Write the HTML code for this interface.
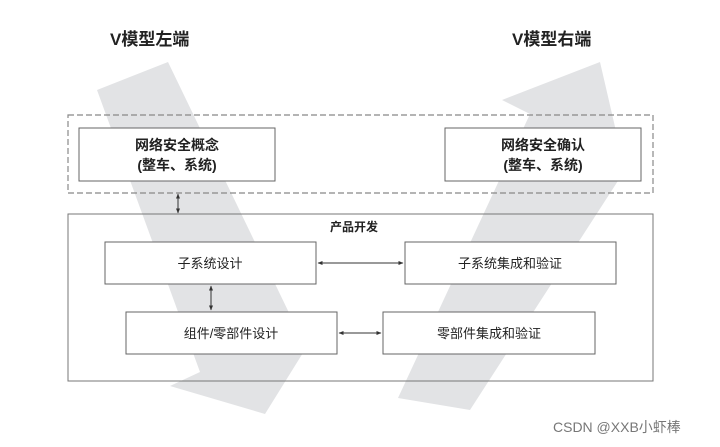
<!DOCTYPE html>
<html><head><meta charset="utf-8"><style>
body{margin:0;background:#fff}
svg{display:block}
text{font-family:"Liberation Sans","Noto Sans CJK SC",sans-serif;fill:#222}
</style></head><body>
<svg width="720" height="447" viewBox="0 0 720 447" xmlns="http://www.w3.org/2000/svg">
<defs>
<marker id="a" viewBox="0 0 10 10" refX="9" refY="5" markerWidth="5" markerHeight="5" orient="auto-start-reverse"><path d="M0,1 L10,5 L0,9 z" fill="#333"/></marker>
</defs>
<!-- gray V arrows -->
<polygon points="97,90 168,62 306,348 265,414 170,386 200,372" fill="#e2e3e5"/>
<polygon points="398,398 530,114 502,100 600,62 625,170 470,410" fill="#e2e3e5"/>
<text x="110" y="45" font-size="17" font-weight="bold">V模型左端</text>
<text x="512" y="45" font-size="17" font-weight="bold">V模型右端</text>
<!-- dashed group -->
<rect x="68" y="115" width="585" height="78" fill="none" stroke="#888" stroke-dasharray="6,3" stroke-width="1.2"/>
<rect x="79" y="128" width="196" height="53" fill="#fff" stroke="#666"/>
<rect x="445" y="128" width="196" height="53" fill="#fff" stroke="#666"/>
<text x="177" y="150" font-size="14" font-weight="bold" text-anchor="middle">网络安全概念</text>
<text x="177" y="170" font-size="14" font-weight="bold" text-anchor="middle">(整车、系统)</text>
<text x="543" y="150" font-size="14" font-weight="bold" text-anchor="middle">网络安全确认</text>
<text x="543" y="170" font-size="14" font-weight="bold" text-anchor="middle">(整车、系统)</text>
<line x1="178" y1="194" x2="178" y2="213" stroke="#333" marker-start="url(#a)" marker-end="url(#a)"/>
<!-- product dev -->
<rect x="68" y="214" width="585" height="167" fill="none" stroke="#777"/>
<text x="354" y="231" font-size="12" font-weight="bold" text-anchor="middle">产品开发</text>
<rect x="105" y="242" width="211" height="42" fill="#fff" stroke="#666"/>
<rect x="405" y="242" width="211" height="42" fill="#fff" stroke="#666"/>
<rect x="126" y="312" width="211" height="42" fill="#fff" stroke="#666"/>
<rect x="383" y="312" width="212" height="42" fill="#fff" stroke="#666"/>
<text x="210" y="268" font-size="13" text-anchor="middle">子系统设计</text>
<text x="510" y="268" font-size="13" text-anchor="middle">子系统集成和验证</text>
<text x="231" y="338" font-size="13" text-anchor="middle">组件/零部件设计</text>
<text x="489" y="338" font-size="13" text-anchor="middle">零部件集成和验证</text>
<line x1="318" y1="263" x2="403" y2="263" stroke="#333" marker-start="url(#a)" marker-end="url(#a)"/>
<line x1="211" y1="286" x2="211" y2="310" stroke="#333" marker-start="url(#a)" marker-end="url(#a)"/>
<line x1="339" y1="333" x2="381" y2="333" stroke="#333" marker-start="url(#a)" marker-end="url(#a)"/>
<text x="553" y="432" font-size="14" fill="#777" style="fill:#777">CSDN @XXB小虾棒</text>
</svg>
</body></html>
